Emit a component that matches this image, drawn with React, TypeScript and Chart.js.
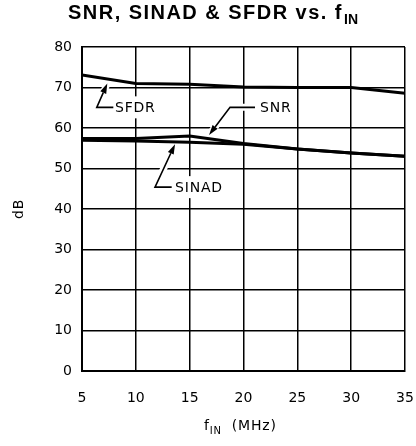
import { useEffect, useRef } from "react";
import { Chart, registerables } from "chart.js";

Chart.register(...registerables);

// ---- data ----
const freqMHz = [5, 10, 15, 20, 25, 30, 35];
const sfdrDb = [73.1, 71.0, 70.8, 70.1, 70.0, 70.0, 68.6];
const snrDb = [57.4, 57.4, 58.0, 56.2, 54.8, 53.8, 53.0];
const sinadDb = [57.0, 56.8, 56.5, 56.0, 54.8, 53.8, 53.0];

const xTickValues = [5, 10, 15, 20, 25, 30, 35];
const yTickValues = [0, 10, 20, 30, 40, 50, 60, 70, 80];

const titleMain = "SNR, SINAD & SFDR vs. f";
const titleSub = "IN";
const xTitleMain = "f";
const xTitleSub = "IN";
const xTitleRest = "(MHz)";
const yTitle = "dB";

// callouts in data coordinates: tip of arrow, elbow, end of horizontal, label start
const calloutNames = ["SFDR", "SNR", "SINAD"];
const calloutTips = [[7.35, 71.0], [16.8, 58.3], [13.64, 56.0]];
const calloutElbows = [[6.37, 65.1], [18.75, 65.1], [11.78, 45.4]];
const calloutEnds = [[7.91, 65.1], [21.07, 65.1], [13.33, 45.4]];
const calloutLabels = [[8.06, 65.1], [21.53, 65.1], [13.64, 45.4]];

const TICK_FONT = "DejaVu Sans";

const overlayPlugin = {
  id: "overlay",
  beforeDatasetsDraw(chart: any) {
    const ctx = chart.ctx;
    const xs = chart.scales.x;
    const ys = chart.scales.y;
    ctx.save();
    for (let i = 0; i < calloutNames.length; i++) {
      const tip = [xs.getPixelForValue(calloutTips[i][0]), ys.getPixelForValue(calloutTips[i][1])];
      const el = [xs.getPixelForValue(calloutElbows[i][0]), ys.getPixelForValue(calloutElbows[i][1])];
      const en = [xs.getPixelForValue(calloutEnds[i][0]), ys.getPixelForValue(calloutEnds[i][1])];
      const lb = [xs.getPixelForValue(calloutLabels[i][0]), ys.getPixelForValue(calloutLabels[i][1])];
      ctx.font = `14px "${TICK_FONT}"`;
      (ctx as any).letterSpacing = "0.8px";
      const w = ctx.measureText(calloutNames[i]).width;
      ctx.fillStyle = "#fff";
      ctx.fillRect(lb[0] - 3, lb[1] - 11, w + 6, 22);
      ctx.lineCap = "round";
      ctx.lineJoin = "round";
      ctx.strokeStyle = "#fff";
      ctx.lineWidth = 7;
      ctx.beginPath();
      ctx.moveTo(tip[0], tip[1]);
      ctx.lineTo(el[0], el[1]);
      ctx.lineTo(en[0], en[1]);
      ctx.stroke();
      ctx.strokeStyle = "#000";
      ctx.lineWidth = 1.6;
      ctx.lineCap = "butt";
      ctx.lineJoin = "miter";
      const ang = Math.atan2(tip[1] - el[1], tip[0] - el[0]);
      const hl = 10;
      const hw = 3.2;
      const bx = tip[0] - Math.cos(ang) * hl;
      const by = tip[1] - Math.sin(ang) * hl;
      ctx.beginPath();
      ctx.moveTo(bx, by);
      ctx.lineTo(el[0], el[1]);
      ctx.lineTo(en[0], en[1]);
      ctx.stroke();
      ctx.fillStyle = "#000";
      ctx.beginPath();
      ctx.moveTo(tip[0], tip[1]);
      ctx.lineTo(bx - Math.sin(ang) * hw, by + Math.cos(ang) * hw);
      ctx.lineTo(bx + Math.sin(ang) * hw, by - Math.cos(ang) * hw);
      ctx.closePath();
      ctx.fill();
      ctx.textAlign = "left";
      ctx.textBaseline = "middle";
      ctx.fillText(calloutNames[i], lb[0], lb[1] + 1);
    }
    ctx.restore();
  },
  afterDraw(chart: any) {
    const ctx = chart.ctx;
    const area = chart.chartArea;
    ctx.save();
    ctx.fillStyle = "#000";
    ctx.textAlign = "left";
    ctx.textBaseline = "alphabetic";
    // title, spread to the reference's width
    ctx.font = `bold 20px "Liberation Sans"`;
    (ctx as any).letterSpacing = "0px";
    const rawMain = ctx.measureText(titleMain).width;
    ctx.font = `bold 14px "Liberation Sans"`;
    const wSub = ctx.measureText(titleSub).width;
    const titleLeft = 68;
    const titleRight = 358;
    const spacing = Math.max(0, (titleRight - titleLeft - wSub - 1 - rawMain) / titleMain.length);
    ctx.font = `bold 20px "Liberation Sans"`;
    (ctx as any).letterSpacing = `${spacing}px`;
    const wMain = ctx.measureText(titleMain).width;
    ctx.fillText(titleMain, titleLeft, 19);
    (ctx as any).letterSpacing = "0px";
    ctx.font = `bold 14px "Liberation Sans"`;
    ctx.fillText(titleSub, titleLeft + wMain + 1, 24);
    // x title
    (ctx as any).letterSpacing = "0.8px";
    ctx.font = `14px "${TICK_FONT}"`;
    const wf = ctx.measureText(xTitleMain).width;
    ctx.font = `10px "${TICK_FONT}"`;
    const wIn = ctx.measureText(xTitleSub).width;
    const x0 = 204;
    ctx.font = `14px "${TICK_FONT}"`;
    ctx.fillText(xTitleMain, x0, 430);
    ctx.font = `10px "${TICK_FONT}"`;
    ctx.fillText(xTitleSub, x0 + wf, 434);
    ctx.font = `14px "${TICK_FONT}"`;
    ctx.fillText(xTitleRest, x0 + wf + wIn + 10, 430);
    // y title
    ctx.translate(19, (area.top + area.bottom) / 2);
    ctx.rotate(-Math.PI / 2);
    ctx.textAlign = "center";
    ctx.textBaseline = "middle";
    ctx.fillText(yTitle, 0, 0);
    ctx.restore();
  },
};

export default function App() {
  const ref = useRef<HTMLCanvasElement | null>(null);
  useEffect(() => {
    if (!ref.current) return;
    const mk = (vals: number[]) => freqMHz.map((f, i) => ({ x: f, y: vals[i] }));
    const lineStyle = {
      borderColor: "#000",
      borderWidth: 3,
      pointRadius: 0,
      tension: 0,
      fill: false,
      showLine: true,
    };
    const chart = new Chart(ref.current, {
      type: "scatter",
      data: {
        datasets: [
          { label: "SFDR", data: mk(sfdrDb), ...lineStyle },
          { label: "SNR", data: mk(snrDb), ...lineStyle },
          { label: "SINAD", data: mk(sinadDb), ...lineStyle },
        ],
      },
      options: {
        animation: false,
        responsive: false,
        devicePixelRatio: 1,
        layout: { padding: { top: 47, right: 11, left: 0, bottom: 0 } },
        plugins: { legend: { display: false }, tooltip: { enabled: false }, title: { display: false } },
        scales: {
          x: {
            type: "linear",
            min: 5,
            max: 35,
            afterBuildTicks: (s: any) => {
              s.ticks = xTickValues.map((v) => ({ value: v }));
            },
            afterFit: (s: any) => {
              s.height = 75;
              s.paddingLeft = 0;
              s.paddingRight = 0;
            },
            grid: { color: "#000", lineWidth: 1.5, drawTicks: false },
            border: { display: true, color: "#000", width: 2 },
            ticks: {
              color: "#000",
              padding: 19,
              maxRotation: 0,
              font: { family: TICK_FONT, size: 14 },
            },
          },
          y: {
            type: "linear",
            min: 0,
            max: 80,
            afterBuildTicks: (s: any) => {
              s.ticks = yTickValues.map((v) => ({ value: v }));
            },
            afterFit: (s: any) => {
              s.width = 82;
              s.paddingTop = 0;
              s.paddingBottom = 0;
            },
            grid: { color: "#000", lineWidth: 1.5, drawTicks: false },
            border: { display: true, color: "#000", width: 2 },
            ticks: {
              color: "#000",
              padding: 10,
              font: { family: TICK_FONT, size: 14 },
            },
          },
        },
      },
      plugins: [overlayPlugin],
    });
    return () => chart.destroy();
  }, []);
  return (
    <div style={{ position: "absolute", left: 0, top: 0, width: 416, height: 446, background: "#fff" }}>
      <canvas ref={ref} width={416} height={446} style={{ width: 416, height: 446 }} />
    </div>
  );
}
